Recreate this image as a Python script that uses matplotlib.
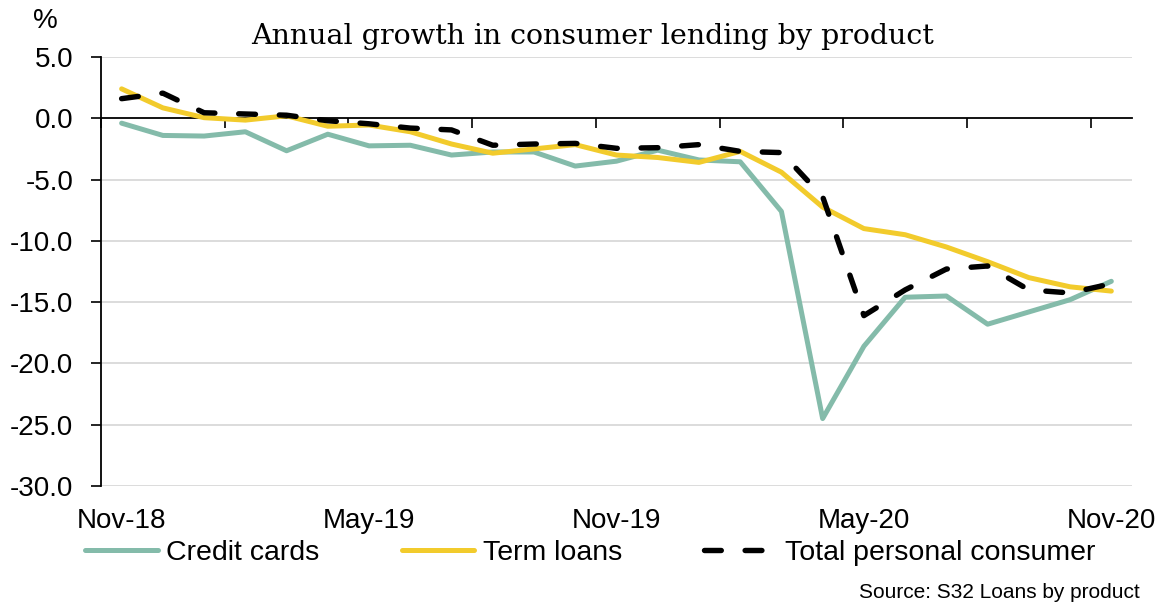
import numpy as np
import matplotlib.pyplot as plt
import matplotlib.transforms as mtransforms

#Data (annual growth, %)
months = ["Nov-18", "Dec-18", "Jan-19", "Feb-19", "Mar-19", "Apr-19", "May-19",
          "Jun-19", "Jul-19", "Aug-19", "Sep-19", "Oct-19", "Nov-19", "Dec-19",
          "Jan-20", "Feb-20", "Mar-20", "Apr-20", "May-20", "Jun-20", "Jul-20",
          "Aug-20", "Sep-20", "Oct-20", "Nov-20"]
credit_cards = [-0.4, -1.4, -1.45, -1.1, -2.65, -1.3, -2.25, -2.2, -3.0, -2.75,
                -2.75, -3.9, -3.5, -2.6, -3.4, -3.55, -7.6, -24.5, -18.6, -14.6,
                -14.5, -16.8, -15.8, -14.8, -13.3]
term_loans = [2.4, 0.85, 0.05, -0.15, 0.2, -0.65, -0.55, -1.1, -2.1, -2.85,
              -2.5, -2.15, -3.0, -3.2, -3.6, -2.7, -4.4, -7.25, -9.0, -9.5,
              -10.5, -11.7, -13.0, -13.75, -14.1]
total = [1.6, 2.05, 0.45, 0.35, 0.25, -0.2, -0.45, -0.8, -0.95, -2.2,
         -2.1, -2.05, -2.45, -2.4, -2.15, -2.7, -2.8, -6.4, -16.1, -14.0,
         -12.3, -12.05, -14.0, -14.25, -13.5]
label_months = ["Nov-18", "May-19", "Nov-19", "May-20", "Nov-20"]
yticks = [5, 0, -5, -10, -15, -20, -25, -30]

x = np.arange(len(months))

fig = plt.figure(figsize=(11.69, 6.05), dpi=100)
ax = fig.add_axes([0.0864, 0.1967, 0.8819, 0.7091])

#grid
for y in yticks:
    if y != 0:
        ax.axhline(y, color="#d9d9d9", linewidth=1.3, zorder=0)

ax.plot(x, credit_cards, color="#84bbaa", linewidth=3.6, label="Credit cards",
        solid_capstyle="round", zorder=3)
ax.plot(x, term_loans, color="#f2cb2c", linewidth=3.6, label="Term loans",
        solid_capstyle="round", zorder=4)
ax.plot(x, total, color="black", linewidth=3.9, dashes=(3.1, 4.4),
        dash_capstyle="round", label="Total personal consumer", zorder=5)

ax.set_xlim(-0.5, len(months) - 0.5)
ax.set_ylim(-30, 5)

#y axis
ax.set_yticks(yticks)
ax.set_yticklabels(["%.1f" % v for v in yticks], fontname="Liberation Sans", fontsize=20)
ax.tick_params(axis="y", direction="out", length=7, width=1.2, pad=13)
ax.spines["left"].set_linewidth(1.3)
for s in ["top", "right"]:
    ax.spines[s].set_visible(False)

#x axis crosses at zero, tick marks between categories
ax.spines["bottom"].set_position(("data", 0))
ax.spines["bottom"].set_linewidth(1.3)
ax.set_xticks(np.arange(-0.5, len(months), 3))
ax.set_xticklabels([])
ax.tick_params(axis="x", direction="out", length=7, width=1.2)

trans = mtransforms.blended_transform_factory(ax.transData, ax.transAxes)
for lab in label_months:
    ax.text(months.index(lab), -0.0816, lab, transform=trans, ha="center", va="center",
            fontname="Liberation Sans", fontsize=20)

fig.text(0.507, 0.94, "Annual growth in consumer lending by product",
         ha="center", va="center", fontname="DejaVu Serif", fontsize=20.5)
fig.text(0.0385, 0.965, "%", ha="center", va="center", fontname="Liberation Sans", fontsize=20)
fig.text(0.975, 0.02, "Source: S32 Loans by product", ha="right", va="center",
         fontname="Liberation Sans", fontsize=15)

fig.legend(loc="center", bbox_to_anchor=(0.505, 0.086), ncol=3, frameon=False,
           prop={"family": "Liberation Sans", "size": 20.5}, handlelength=2.55,
           handletextpad=0.29, columnspacing=2.9, borderaxespad=0)

fig.savefig("out.png", dpi=100)
